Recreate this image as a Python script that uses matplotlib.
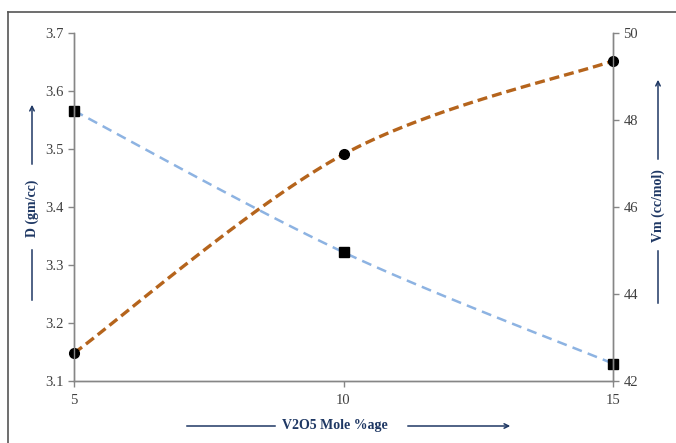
import matplotlib
matplotlib.use("Agg")
import matplotlib.pyplot as plt
from matplotlib.lines import Line2D
from matplotlib.patches import FancyArrowPatch
import numpy as np

# V2O5 content (mole %)
v2o5 = [5, 10, 15]
# density, left axis
density = [3.566, 3.322, 3.130]
# molar volume, right axis
molar_vol = [42.64, 47.21, 49.36]

W, H = 676, 443
label_col = "#1f3864"
spine_col = "#868686"
tick_col = "#404040"
serif = ["Liberation Serif", "DejaVu Serif"]


def smooth(x, y, n=40):
    # Catmull-Rom style bezier through the points (spreadsheet "smoothed line")
    x = np.asarray(x, float)
    y = np.asarray(y, float)
    px = np.concatenate([[x[0]], x, [x[-1]]])
    py = np.concatenate([[y[0]], y, [y[-1]]])
    xs, ys = [], []
    t = np.linspace(0, 1, n)
    for i in range(1, len(px) - 2):
        p0 = np.array([px[i], py[i]])
        p3 = np.array([px[i + 1], py[i + 1]])
        c1 = p0 + (p3 - np.array([px[i - 1], py[i - 1]])) / 6
        c2 = p3 - (np.array([px[i + 2], py[i + 2]]) - p0) / 6
        b = ((1 - t) ** 3)[:, None] * p0 + (3 * (1 - t) ** 2 * t)[:, None] * c1 \
            + (3 * (1 - t) * t ** 2)[:, None] * c2 + (t ** 3)[:, None] * p3
        xs.extend(b[:, 0])
        ys.extend(b[:, 1])
    return np.array(xs), np.array(ys)


def fpos(x, y):
    return x / W, 1 - y / H


fig = plt.figure(figsize=(W / 100, H / 100), dpi=100)
ax = fig.add_axes([74 / W, 1 - 381 / H, (613 - 74) / W, (381 - 33) / H])
ax2 = ax.twinx()

sx, sy = smooth(v2o5, density)
ax.plot(sx, sy, color="#8db3e2", lw=1.8, dashes=(4, 2.5))
ax.plot(v2o5, density, ls="none", marker="s", ms=7, color="black", clip_on=False)

sx, sy = smooth(v2o5, molar_vol)
ax2.plot(sx, sy, color="#b5641c", lw=2.4, dashes=(3, 1.5))
ax2.plot(v2o5, molar_vol, ls="none", marker="o", ms=7, color="black", clip_on=False)

ax.set_xlim(5, 15)
ax.set_ylim(3.1, 3.7)
ax2.set_ylim(42, 50)
ax.set_xticks([5, 10, 15])
ax.set_yticks(np.arange(3.1, 3.71, 0.1))
ax2.set_yticks([42, 44, 46, 48, 50])
ax.set_yticklabels(["3.1", "3.2", "3.3", "3.4", "3.5", "3.6", "3.7"])

for a in (ax, ax2):
    for s in a.spines.values():
        s.set_color(spine_col)
        s.set_linewidth(1.0)
    a.spines["top"].set_visible(False)
    a.tick_params(colors=spine_col, labelcolor=tick_col, length=4, width=1)
    for lab in a.get_xticklabels() + a.get_yticklabels():
        lab.set_family(serif)
        lab.set_fontsize(10.5)
ax.tick_params(axis="x", pad=5)

# outer frame (left and top edges)
fig.add_artist(Line2D([8 / W, 8 / W], [0, 1 - 12 / H], color="#555555", lw=1.2))
fig.add_artist(Line2D([8 / W, 1], [1 - 12 / H, 1 - 12 / H], color="#555555", lw=1.2))


def arrow_label(text, x0, y0, x1, y1, tx, ty, rot):
    # plain segment, label text, then arrow segment
    fig.add_artist(Line2D(*zip(fpos(*x0), fpos(*y0)), color=label_col, lw=1.1))
    fig.add_artist(FancyArrowPatch(fpos(*x1), fpos(*y1), transform=fig.transFigure,
                                   arrowstyle="->", mutation_scale=8,
                                   color=label_col, lw=1.1))
    fig.text(*fpos(tx, ty), text, rotation=rot, ha="center", va="center",
             color=label_col, fontsize=10, fontweight="bold", family=serif)


arrow_label("V2O5 Mole %age", (187, 426), (275, 426), (405, 426), (513, 426),
            335, 426, 0)
arrow_label("D (gm/cc)", (32, 300), (32, 250), (32, 167), (32, 102),
            32, 208, 90)
arrow_label("Vm (cc/mol)", (658, 303), (658, 251), (658, 162), (658, 77),
            658, 206, 90)

fig.savefig("out.png", dpi=100)
